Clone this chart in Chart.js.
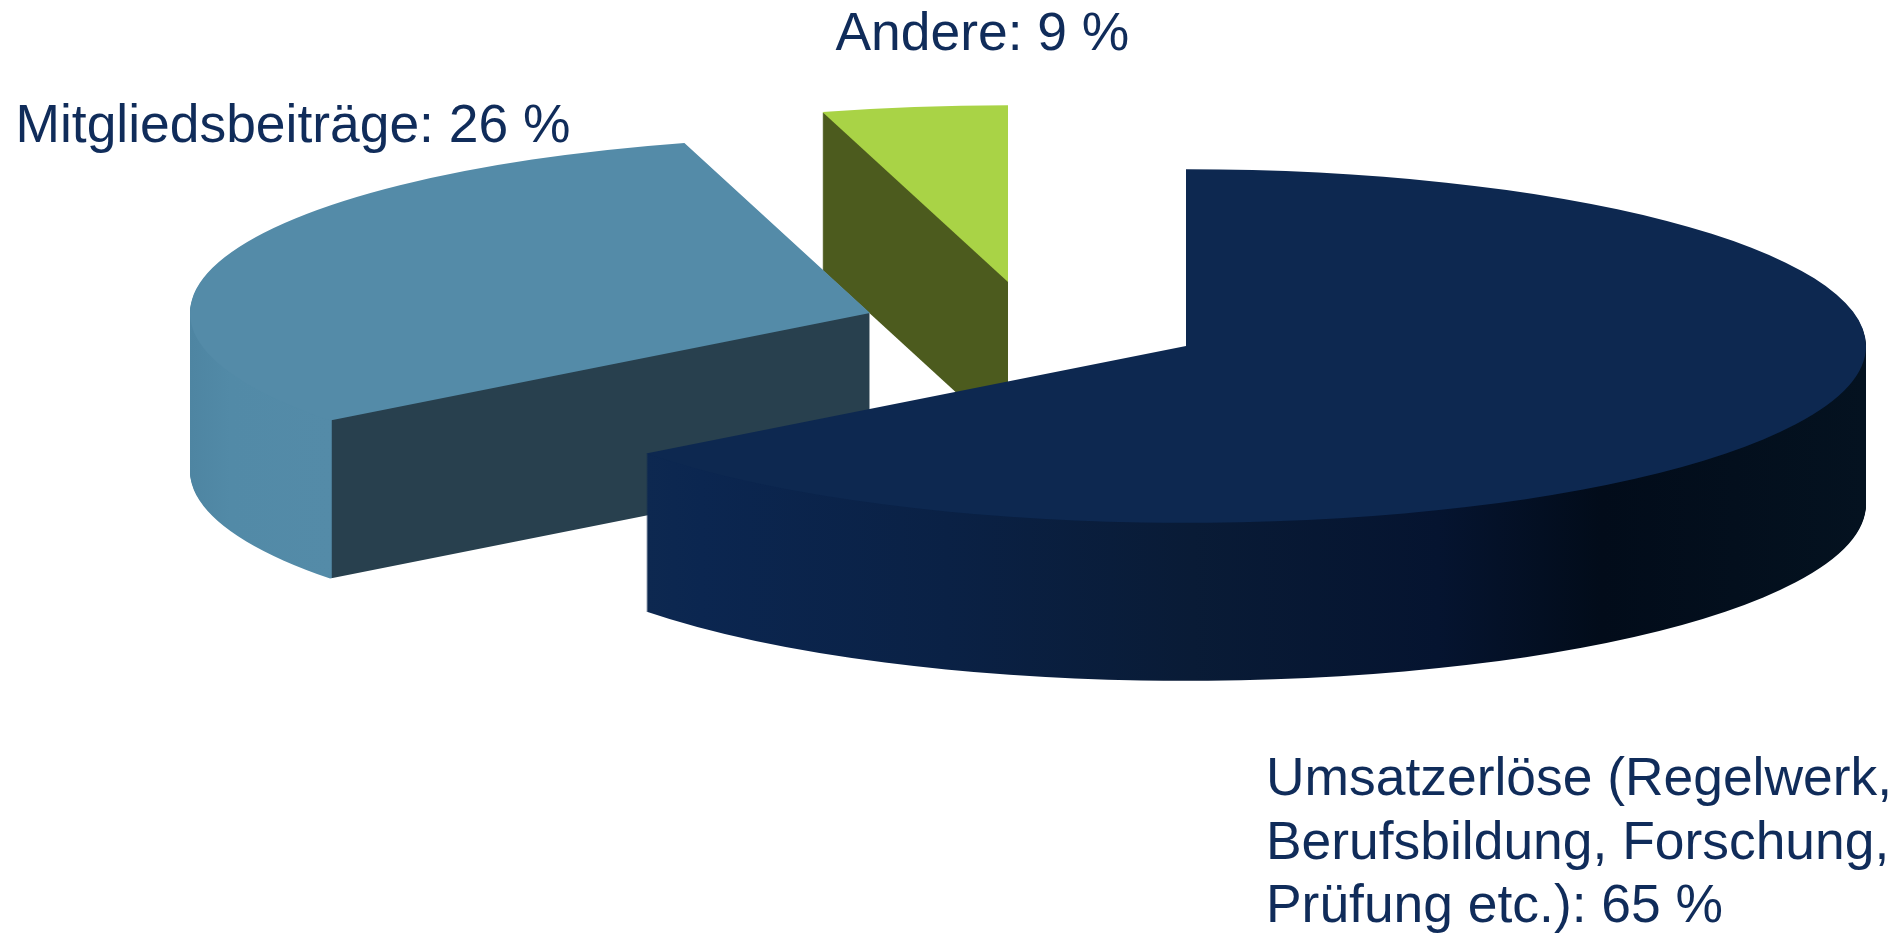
<!DOCTYPE html>
<html>
<head>
<meta charset="utf-8">
<title>Umsatzerlöse</title>
<script src="https://cdn.jsdelivr.net/npm/chart.js@4"></script>
<style>
    html, body { margin: 0; padding: 0; background: #fff; overflow: hidden; }
    canvas { display: block; }
</style>
</head>
<body>
<canvas id="myChart" width="1903" height="934"></canvas>
<script>
var categories = ["Umsatzerlöse", "Mitgliedsbeiträge", "Andere"];
// the wedges in the picture are not as wide as their printed percentages say,
// so the drawn shares are read off the wedge angles and the printed ones are kept for the text
var drawnShares = [64.6, 31.0, 4.4];
var printedPercents = [65, 26, 9];
var labelLines = [
    ["Umsatzerlöse (Regelwerk,", "Berufsbildung, Forschung,", "Prüfung etc.)"],
    ["Mitgliedsbeiträge"],
    ["Andere"]
];

// look of the tilted pie
var topColors = ["#0d2850", "#548ba8", "#a9d346"];
var radius = 680;
var squash = 0.26;
var depth = 158;
var explodeX = [234.5, -81.5, 56.5];
var explodeY = [-121, -154, -185];

// where the labels sit: left edge and first baseline, then line height
var labelX = [1266, 15.5, 835.5];
var labelY = [795, 142, 50];
var lineHeight = 63.5;
var textColor = "#102c5a";

/*
    Side walls, filled by x position so the rim and the cut face can differ.
*/
function sideFill(ctx, arc, index){
    var g = ctx.createLinearGradient(arc.x - radius, 0, arc.x + radius, 0);
    if(index == 0){
        g.addColorStop(0.104, "#0d2850");
        g.addColorStop(0.144, "#0b2650");
        g.addColorStop(0.324, "#0a2145");
        g.addColorStop(0.505, "#091b36");
        g.addColorStop(0.685, "#051430");
        g.addColorStop(0.806, "#020c1a");
        g.addColorStop(1, "#041220");
    } else if(index == 1){
        g.addColorStop(0, "#4e85a2");
        g.addColorStop(0.03, "#528aa7");
        g.addColorStop(0.1039, "#548ba8");
        g.addColorStop(0.1045, "#28404e");
        g.addColorStop(1, "#28404e");
    } else {
        g.addColorStop(0, "#4c5b1e");
        g.addColorStop(1, "#4c5b1e");
    }
    return g;
}

function drawArcAt(ctx, arc, index, drop, fill){
    var saved = arc.options;
    arc.options = Object.assign({}, saved, {backgroundColor: fill});
    ctx.save();
    ctx.translate(arc.x + explodeX[index], arc.y + explodeY[index] + drop);
    ctx.scale(1, squash);
    ctx.translate(-arc.x, -arc.y);
    arc.draw(ctx);
    ctx.restore();
    arc.options = saved;
}

var tiltedPie = {
    id: "tiltedPie",
    beforeDatasetsDraw: function(chart){
        var ctx = chart.ctx;
        var arcs = chart.getDatasetMeta(0).data;
        // back slice first, the big one comes last
        for(var i = arcs.length - 1; i >= 0; i--){
            var walls = sideFill(ctx, arcs[i], i);
            for(var d = depth; d > 0; d--){
                drawArcAt(ctx, arcs[i], i, d, walls);
            }
            drawArcAt(ctx, arcs[i], i, 0, topColors[i]);
        }
        return false;
    },
    afterDraw: function(chart){
        var ctx = chart.ctx;
        ctx.save();
        ctx.fillStyle = textColor;
        ctx.font = "53.4px 'Liberation Sans', Arial, sans-serif";
        ctx.textBaseline = "alphabetic";
        labelLines.forEach(function(lines, i){
            lines.forEach(function(line, n){
                var text = n == lines.length - 1 ? line + ": " + printedPercents[i] + " %" : line;
                ctx.fillText(text, labelX[i], labelY[i] + n * lineHeight);
            });
        });
        ctx.restore();
    }
};

new Chart(document.getElementById("myChart").getContext("2d"), {
    type: "pie",
    data: {
        labels: categories,
        datasets: [{
            data: drawnShares,
            backgroundColor: topColors,
            borderWidth: 0
        }]
    },
    options: {
        responsive: false,
        animation: false,
        radius: radius,
        layout: { padding: 0 },
        plugins: {
            legend: { display: false },
            tooltip: { enabled: false }
        }
    },
    plugins: [tiltedPie]
});
</script>
</body>
</html>
